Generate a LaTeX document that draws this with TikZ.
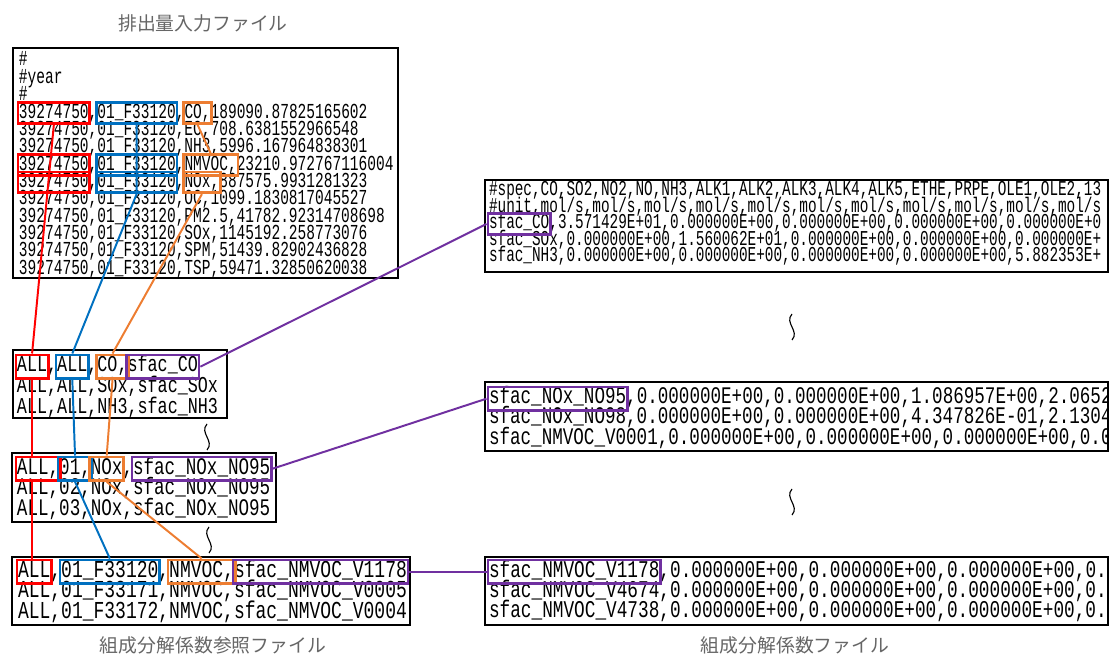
\documentclass[tikz,border=0pt]{standalone}
\usepackage{fontspec}
\usepackage{xcolor}
\usetikzlibrary{fit}
\newfontfamily\codefont[FakeStretch=0.68]{Liberation Mono}
\newfontfamily\codefontL[FakeStretch=0.74]{Liberation Mono}
\newfontfamily\jpfont{Noto Sans CJK JP}
\newcommand{\cf}[1]{\codefont\fontsize{#1}{#1}\selectfont}
\newcommand{\cfL}[1]{\codefontL\fontsize{#1}{#1}\selectfont}
\definecolor{hlred}{HTML}{FF0000}
\definecolor{hlblue}{HTML}{0070C0}
\definecolor{hlorange}{HTML}{ED7D31}
\definecolor{hlpurple}{HTML}{7030A0}

\begin{document}
\begin{tikzpicture}[x=0.025cm, y=-0.025cm,
    frame/.style={draw, line width=1.4pt, inner sep=0pt},
    ln/.style={inner sep=0pt, outer sep=0pt, anchor=base west},
    rowS/.style={ln, text height=9.4pt, text depth=2.2pt},
    rowL/.style={ln, text height=10.6pt, text depth=3pt},
    hl/.style={draw=#1, line width=1.9pt, inner xsep=0.8pt, inner ysep=1.6pt},
    link/.style={draw=#1, line width=1.4pt},
    wave/.style={line width=0.8pt},
    title/.style={font=\jpfont\fontsize{13.4}{16}\selectfont, text=black!60, inner sep=0pt}]
    \useasboundingbox (0,0) rectangle (1111,655);

    % titles
    \node[title] (emistitle) at (203,23) {排出量入力ファイル};
    \node[title] (reftitle) at (213,645) {組成分解係数参照ファイル};
    \node[title] (sfactitle) at (795,645) {組成分解係数ファイル};

    % frames
    \node[frame, fit={(13,48) (398,278)}] (emis) {};
    \node[frame, fit={(13,350) (227,418)}] (refA) {};
    \node[frame, fit={(12,453) (276,522)}] (refB) {};
    \node[frame, fit={(12,557) (410,625)}] (refC) {};
    \node[frame, fit={(485,180) (1108,272)}] (sfacA) {};
    \node[frame, fit={(485,382) (1108,451)}] (sfacB) {};
    \node[frame, fit={(485,557) (1108,625)}] (sfacC) {};

    % emission file
    \begin{scope}[font=\cf{15.18}]
    \node[rowS] (e0) at (19,66) {\#};
    \node[rowS] (e1) at (19,83.35) {\#year};
    \node[rowS] (e2) at (19,100.7) {\#};
    \node[rowS] (t3a) at (19,118.05) {39274750};
    \node[rowS] (t3b) at (t3a.base east) {,};
    \node[rowS] (t3c) at (t3b.base east) {01\_F33120};
    \node[rowS] (t3d) at (t3c.base east) {,};
    \node[rowS] (t3e) at (t3d.base east) {CO,};
    \node[rowS] (t3f) at (t3e.base east) {189090.87825165602};
    \node[rowS] (e4) at (19,135.4) {39274750,01\_F33120,EC,708.6381552966548};
    \node[rowS] (e5) at (19,152.75) {39274750,01\_F33120,NH3,5996.167964838301};
    \node[rowS] (t6a) at (19,170.1) {39274750};
    \node[rowS] (t6b) at (t6a.base east) {,};
    \node[rowS] (t6c) at (t6b.base east) {01\_F33120};
    \node[rowS] (t6d) at (t6c.base east) {,};
    \node[rowS] (t6e) at (t6d.base east) {NMVOC,};
    \node[rowS] (t6f) at (t6e.base east) {23210.972767116004};
    \node[rowS] (t7a) at (19,187.45) {39274750};
    \node[rowS] (t7b) at (t7a.base east) {,};
    \node[rowS] (t7c) at (t7b.base east) {01\_F33120};
    \node[rowS] (t7d) at (t7c.base east) {,};
    \node[rowS] (t7e) at (t7d.base east) {NOx,};
    \node[rowS] (t7f) at (t7e.base east) {887575.9931281323};
    \node[rowS] (e8) at (19,204.8) {39274750,01\_F33120,OC,1099.1830817045527};
    \node[rowS] (e9) at (19,222.15) {39274750,01\_F33120,PM2.5,41782.92314708698};
    \node[rowS] (e10) at (19,239.5) {39274750,01\_F33120,SOx,1145192.258773076};
    \node[rowS] (e11) at (19,256.85) {39274750,01\_F33120,SPM,51439.82902436828};
    \node[rowS] (e12) at (19,274.2) {39274750,01\_F33120,TSP,59471.32850620038};
    \end{scope}

    % reference file, three parts
    \begin{scope}[font=\cfL{16.1}]
    \node[rowL] (a0a) at (17,372) {ALL};
    \node[rowL] (a0b) at (a0a.base east) {,};
    \node[rowL] (a0c) at (a0b.base east) {ALL};
    \node[rowL] (a0d) at (a0c.base east) {,};
    \node[rowL] (a0e) at (a0d.base east) {CO,};
    \node[rowL] (a0f) at (a0e.base east) {sfac\_CO};
    \node[rowL] (a1) at (17,392.5) {ALL,ALL,SOx,sfac\_SOx};
    \node[rowL] (a2) at (17,413) {ALL,ALL,NH3,sfac\_NH3};
    \end{scope}
    \begin{scope}[font=\cfL{16.9}]
    \node[rowL] (b0a) at (17,474) {ALL,};
    \node[rowL] (b0b) at (b0a.base east) {01,};
    \node[rowL] (b0c) at (b0b.base east) {NOx};
    \node[rowL] (b0d) at (b0c.base east) {,};
    \node[rowL] (b0e) at (b0d.base east) {sfac\_NOx\_NO95};
    \node[rowL] (b1) at (17,494.5) {ALL,02,NOx,sfac\_NOx\_NO95};
    \node[rowL] (b2) at (17,515) {ALL,03,NOx,sfac\_NOx\_NO95};
    \end{scope}
    \begin{scope}[font=\cfL{17.3}]
    \node[rowL] (c0a) at (18,577) {ALL};
    \node[rowL] (c0b) at (c0a.base east) {,};
    \node[rowL] (c0c) at (c0b.base east) {01\_F33120};
    \node[rowL] (c0d) at (c0c.base east) {,};
    \node[rowL] (c0e) at (c0d.base east) {NMVOC,};
    \node[rowL] (c0f) at (c0e.base east) {sfac\_NMVOC\_V1178};
    \node[rowL] (c1) at (18,597.5) {ALL,01\_F33171,NMVOC,sfac\_NMVOC\_V0005};
    \node[rowL] (c2) at (18,618) {ALL,01\_F33172,NMVOC,sfac\_NMVOC\_V0004};
    \end{scope}

    % factor file, cut at the right edge
    \begin{scope}[font=\cf{15.03}]
    \clip (sfacA.south west) rectangle (sfacA.north east);
    \node[rowS] (s0) at (489,196) {\#spec,CO,SO2,NO2,NO,NH3,ALK1,ALK2,ALK3,ALK4,ALK5,ETHE,PRPE,OLE1,OLE2,13};
    \node[rowS] (s1) at (489,212.5) {\#unit,mol/s,mol/s,mol/s,mol/s,mol/s,mol/s,mol/s,mol/s,mol/s,mol/s,mol/s};
    \node[rowS] (s2a) at (489,229) {sfac\_CO};
    \node[rowS] (s2b) at (s2a.base east) {,3.571429E+01,0.000000E+00,0.000000E+00,0.000000E+00,0.000000E+0};
    \node[rowS] (s3) at (489,245.5) {sfac\_SOx,0.000000E+00,1.560062E+01,0.000000E+00,0.000000E+00,0.000000E+};
    \node[rowS] (s4) at (489,262) {sfac\_NH3,0.000000E+00,0.000000E+00,0.000000E+00,0.000000E+00,5.882353E+};
    \end{scope}
    \begin{scope}[font=\cfL{16.9}]
    \clip (sfacB.south west) rectangle (sfacB.north east);
    \node[rowL] (n0a) at (489,404) {sfac\_NOx\_NO95};
    \node[rowL] (n0b) at (n0a.base east) {,0.000000E+00,0.000000E+00,1.086957E+00,2.0652};
    \node[rowL] (n1) at (489,424) {sfac\_NOx\_NO98,0.000000E+00,0.000000E+00,4.347826E-01,2.1304};
    \node[rowL] (n2) at (489,444) {sfac\_NMVOC\_V0001,0.000000E+00,0.000000E+00,0.000000E+00,0.0};
    \end{scope}
    \begin{scope}[font=\cfL{17.06}]
    \clip (sfacC.south west) rectangle (sfacC.north east);
    \node[rowL] (v0a) at (489,577) {sfac\_NMVOC\_V1178};
    \node[rowL] (v0b) at (v0a.base east) {,0.000000E+00,0.000000E+00,0.000000E+00,0.};
    \node[rowL] (v1) at (489,597) {sfac\_NMVOC\_V4674,0.000000E+00,0.000000E+00,0.000000E+00,0.};
    \node[rowL] (v2) at (489,617) {sfac\_NMVOC\_V4738,0.000000E+00,0.000000E+00,0.000000E+00,0.};
    \end{scope}

    % highlight boxes
    \node[hl=hlred, fit=(t3a)] (id3) {};
    \node[hl=hlblue, fit=(t3c)] (sec3) {};
    \node[hl=hlorange, fit=(t3e)] (spc3) {};
    \node[hl=hlred, fit=(t6a)] (id6) {};
    \node[hl=hlblue, fit=(t6c)] (sec6) {};
    \node[hl=hlorange, fit=(t6e)] (spc6) {};
    \node[hl=hlred, fit=(t7a)] (id7) {};
    \node[hl=hlblue, fit=(t7c)] (sec7) {};
    \node[hl=hlorange, fit=(t7e)] (spc7) {};

    \node[hl=hlred, fit=(a0a)] (aid) {};
    \node[hl=hlblue, fit=(a0c)] (asec) {};
    \node[hl=hlorange, fit=(a0e)] (aspc) {};
    \node[hl=hlpurple, fit=(a0f)] (afac) {};
    \node[hl=hlred, fit=(b0a)] (bid) {};
    \node[hl=hlblue, fit=(b0b)] (bsec) {};
    \node[hl=hlorange, fit=(b0c)] (bspc) {};
    \node[hl=hlpurple, fit=(b0e)] (bfac) {};
    \node[hl=hlred, fit=(c0a)] (cid) {};
    \node[hl=hlblue, fit=(c0c)] (csec) {};
    \node[hl=hlorange, fit=(c0e)] (cspc) {};
    \node[hl=hlpurple, fit=(c0f)] (cfac) {};

    \node[hl=hlpurple, fit=(s2a)] (fco) {};
    \node[hl=hlpurple, fit=(n0a)] (fnox) {};
    \node[hl=hlpurple, fit=(v0a)] (fvoc) {};

    % links
    \draw[link=hlred] (id3.south) -- (aid.north);
    \draw[link=hlred] (aid.south) -- (aid.south |- bid.north);
    \draw[link=hlred] (aid.south |- bid.south) -- (aid.south |- cid.north);
    \draw[link=hlblue] (sec3.south) -- (sec7.south) -- (asec.north);
    \draw[link=hlblue] (asec.south) -- (bsec.north);
    \draw[link=hlblue] (bsec.south) -- (csec.north);
    \draw[link=hlorange] (spc3.south) -- (spc6.north);
    \draw[link=hlorange] (spc7.south) -- (aspc.north);
    \draw[link=hlorange] (aspc.south) -- (bspc.north);
    \draw[link=hlorange] (bspc.south) -- (cspc.north);
    \draw[link=hlpurple] (afac.east) -- (fco.west);
    \draw[link=hlpurple] (bfac.east) -- (fnox.west);
    \draw[link=hlpurple] (cfac.east) -- (fvoc.west);

    % omission marks
    \foreach \wx/\wy in {207/437, 209/540, 792/327, 792/502}
        \draw[wave] (\wx,\wy-13) .. controls +(-8,9) and +(8,-9) .. (\wx,\wy+13);
\end{tikzpicture}
\end{document}
